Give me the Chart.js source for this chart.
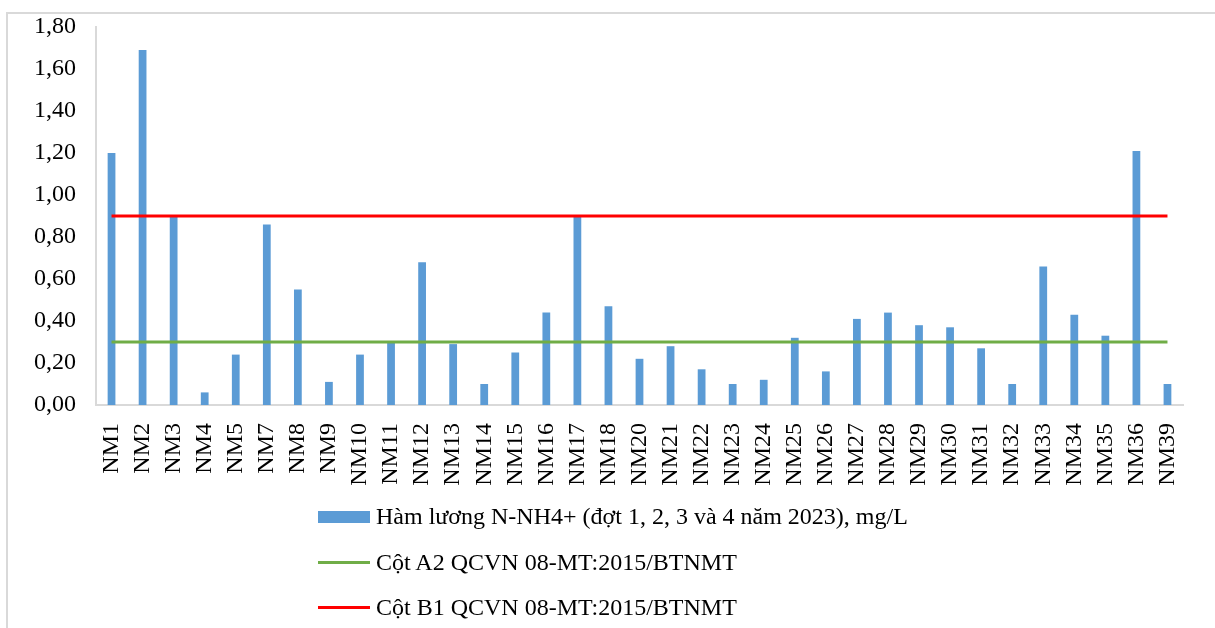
<!DOCTYPE html>
<html lang="vi">
<head>
<meta charset="utf-8">
<title>Hàm lượng N-NH4+ năm 2023</title>
<script src="https://cdn.jsdelivr.net/npm/chart.js@4/dist/chart.umd.min.js"></script>
<style>
  html, body { margin: 0; padding: 0; background: #fff; }
  body { width: 1215px; height: 628px; position: relative; overflow: hidden; font-family: "Liberation Serif", "Times New Roman", serif; }
  .frame { position: absolute; left: 6px; top: 12px; width: 1230px; height: 640px; border: 2px solid #d9d9d9; box-sizing: border-box; }
  #chart { position: absolute; left: 0; top: 0; }
  #legend { position: absolute; left: 318px; top: 494px; }
  .item { height: 45.5px; display: flex; align-items: center; font-size: 24px; color: #000; white-space: nowrap; }
  .sw { width: 52px; margin-right: 6px; }
</style>
</head>
<body>
<div class="frame"></div>
<canvas id="chart" width="1215" height="500"></canvas>
<div id="legend"></div>
<script>
const stations = ['NM1','NM2','NM3','NM4','NM5','NM7','NM8','NM9','NM10','NM11','NM12','NM13','NM14','NM15','NM16','NM17','NM18','NM20','NM21','NM22','NM23','NM24','NM25','NM26','NM27','NM28','NM29','NM30','NM31','NM32','NM33','NM34','NM35','NM36','NM39'];
const nh4 = [1.20,1.69,0.90,0.06,0.24,0.86,0.55,0.11,0.24,0.30,0.68,0.29,0.10,0.25,0.44,0.90,0.47,0.22,0.28,0.17,0.10,0.12,0.32,0.16,0.41,0.44,0.38,0.37,0.27,0.10,0.66,0.43,0.33,1.21,0.10];
const limitA2 = stations.map(() => 0.3);
const limitB1 = stations.map(() => 0.9);

const tickFont = { family: '"Liberation Serif", "Times New Roman", serif', size: 24 };

const chart = new Chart(document.getElementById('chart'), {
  type: 'bar',
  data: {
    labels: stations,
    datasets: [
      { type: 'bar', label: 'Hàm lương N-NH4+ (đợt 1, 2, 3 và 4 năm 2023), mg/L', data: nh4,
        backgroundColor: '#5b9bd5', barPercentage: 0.25, categoryPercentage: 1, order: 1 },
      { type: 'line', label: 'Cột A2 QCVN 08-MT:2015/BTNMT', data: limitA2,
        borderColor: '#70ad47', backgroundColor: '#70ad47', borderWidth: 3, pointRadius: 0, order: 0 },
      { type: 'line', label: 'Cột B1 QCVN 08-MT:2015/BTNMT', data: limitB1,
        borderColor: '#ff0000', backgroundColor: '#ff0000', borderWidth: 3, pointRadius: 0, order: 0 }
    ]
  },
  options: {
    responsive: false,
    animation: false,
    devicePixelRatio: 1,
    layout: { padding: { top: 27, right: 32, left: 0, bottom: 0 } },
    plugins: { legend: { display: false }, tooltip: { enabled: false } },
    scales: {
      x: {
        grid: { display: false, drawTicks: false },
        border: { display: true, color: '#d9d9d9', width: 2 },
        ticks: { color: '#000', font: tickFont, autoSkip: false, maxRotation: 90, minRotation: 90, padding: 18 },
        afterFit: s => { s.height = 95; }
      },
      y: {
        min: 0, max: 1.8,
        grid: { display: false, drawTicks: false },
        border: { display: true, color: '#d9d9d9', width: 2 },
        ticks: { stepSize: 0.2, color: '#000', font: tickFont, padding: 20,
          callback: v => v.toFixed(2).replace('.', ',') },
        afterFit: s => { s.width = 96; s.paddingTop = 0; s.paddingBottom = 0; }
      }
    }
  }
});

// legend below the plot, one entry per row
const legend = document.getElementById('legend');
chart.data.datasets.forEach(ds => {
  const row = document.createElement('div');
  row.className = 'item';
  const sw = document.createElement('span');
  sw.className = 'sw';
  sw.style.height = ds.type === 'bar' ? '12px' : '3px';
  sw.style.background = ds.type === 'bar' ? ds.backgroundColor : ds.borderColor;
  row.appendChild(sw);
  row.appendChild(document.createTextNode(ds.label));
  legend.appendChild(row);
});
</script>
</body>
</html>
